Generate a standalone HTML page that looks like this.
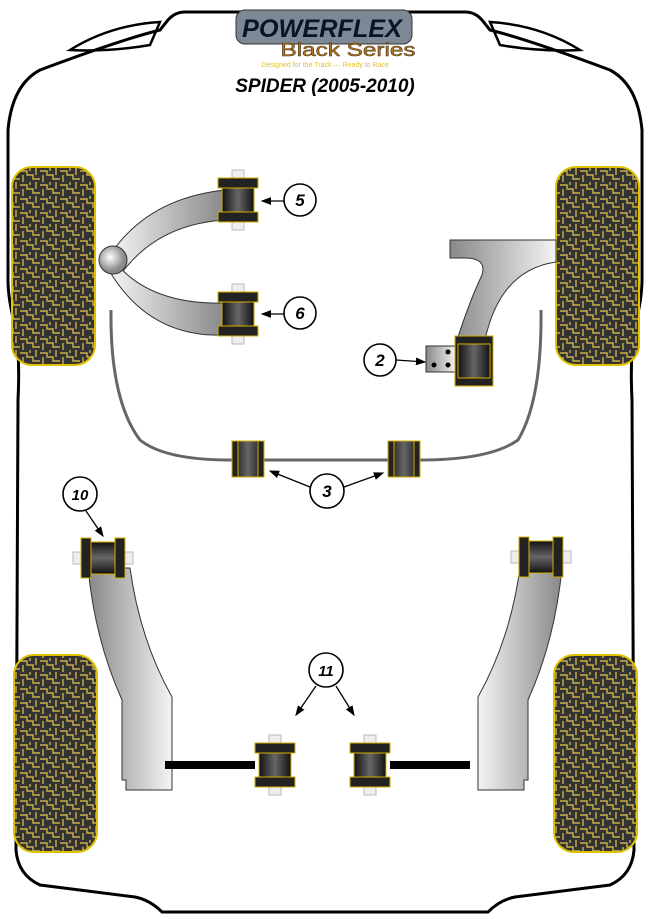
<!DOCTYPE html>
<html><head><meta charset="utf-8">
<style>html,body{margin:0;padding:0;background:#fff;width:650px;height:919px;overflow:hidden}</style>
</head><body>
<svg width="650" height="919" viewBox="0 0 650 919" xmlns="http://www.w3.org/2000/svg" font-family="Liberation Sans, sans-serif">
<defs>
<pattern id="tread" width="20" height="14" patternUnits="userSpaceOnUse">
<rect width="20" height="14" fill="#333"/>
<path d="M0 3 H7 V7 H13 V11 H20 M10 0 V3 M3 7 V14 M16 0 V7" stroke="#cbb04a" stroke-width="1.4" fill="none"/>
</pattern>
<linearGradient id="bv" x1="0" x2="1"><stop offset="0" stop-color="#111"/><stop offset="0.5" stop-color="#666"/><stop offset="1" stop-color="#111"/></linearGradient>
<linearGradient id="bh" x1="0" x2="0" y1="0" y2="1"><stop offset="0" stop-color="#111"/><stop offset="0.5" stop-color="#666"/><stop offset="1" stop-color="#111"/></linearGradient>
<linearGradient id="arm" x1="0" x2="1"><stop offset="0" stop-color="#888"/><stop offset="1" stop-color="#f4f4f4"/></linearGradient>
<linearGradient id="armr" x1="1" x2="0"><stop offset="0" stop-color="#888"/><stop offset="1" stop-color="#f4f4f4"/></linearGradient>
<radialGradient id="ball" cx="0.4" cy="0.4"><stop offset="0" stop-color="#fff"/><stop offset="1" stop-color="#888"/></radialGradient>
<g id="bushV">
<rect x="-6" y="-30" width="12" height="60" fill="#eee" stroke="#bbb"/>
<rect x="-20" y="-22" width="40" height="10" fill="#222" stroke="#d4b000"/>
<rect x="-20" y="12" width="40" height="10" fill="#222" stroke="#d4b000"/>
<rect x="-16" y="-12" width="32" height="24" fill="url(#bv)" stroke="#d4b000"/>
</g>
<g id="bushH">
<rect x="-30" y="-6" width="60" height="12" fill="#eee" stroke="#bbb"/>
<rect x="-22" y="-20" width="10" height="40" fill="#222" stroke="#d4b000"/>
<rect x="12" y="-20" width="10" height="40" fill="#222" stroke="#d4b000"/>
<rect x="-12" y="-16" width="24" height="32" fill="url(#bh)" stroke="#d4b000"/>
</g>
<marker id="ah" markerWidth="8" markerHeight="8" refX="7" refY="4" orient="auto"><path d="M0 1 L8 4 L0 7z" fill="#000"/></marker>
</defs>

<!-- body outline -->
<path d="M185 12 Q175 12 168 20 L160 30 Q120 40 40 70 Q12 85 8 130 L8 280 Q8 300 16 330 Q20 360 18 400 L16 850 Q18 875 40 885 L135 897 Q150 900 162 912 L488 912 Q500 900 515 897 L610 885 Q632 875 634 850 L632 400 Q630 360 634 330 Q642 300 642 280 L642 130 Q638 85 610 70 Q530 40 490 30 L482 20 Q475 12 465 12 Z" fill="none" stroke="#000" stroke-width="3"/>
<path d="M70 50 Q110 25 160 22 L150 45 Q110 52 70 50Z" fill="none" stroke="#000" stroke-width="2.5"/>
<path d="M580 50 Q540 25 490 22 L500 45 Q540 52 580 50Z" fill="none" stroke="#000" stroke-width="2.5"/>

<!-- logo -->
<rect x="236" y="10" width="176" height="34" rx="9" fill="#7d8894" stroke="#333"/>
<text x="322" y="37" text-anchor="middle" font-size="25" font-weight="bold" font-style="italic" fill="#0a1428" textLength="160" lengthAdjust="spacingAndGlyphs">POWERFLEX</text>
<text x="348" y="56" text-anchor="middle" font-size="18" fill="#b07820" stroke="#4a3010" stroke-width="0.5" textLength="135" lengthAdjust="spacingAndGlyphs">Black Series</text>
<text x="325" y="67" text-anchor="middle" font-size="7" fill="#e0c030">Designed for the Track — Ready to Race</text>
<text x="325" y="92" text-anchor="middle" font-size="19" font-weight="bold" font-style="italic" fill="#000">SPIDER (2005-2010)</text>

<!-- tyres -->
<rect x="12" y="167" width="83" height="198" rx="20" fill="url(#tread)" stroke="#e0c000" stroke-width="2"/>
<rect x="556" y="167" width="83" height="198" rx="20" fill="url(#tread)" stroke="#e0c000" stroke-width="2"/>
<rect x="14" y="655" width="83" height="197" rx="20" fill="url(#tread)" stroke="#e0c000" stroke-width="2"/>
<rect x="554" y="655" width="83" height="197" rx="20" fill="url(#tread)" stroke="#e0c000" stroke-width="2"/>

<!-- front wishbone -->
<path d="M112 252 Q150 198 225 190 L225 220 Q160 224 124 270Z" fill="url(#armr)" stroke="#333"/>
<path d="M115 262 Q150 305 225 303 L225 335 Q150 338 110 272Z" fill="url(#armr)" stroke="#333"/>
<circle cx="113" cy="260" r="14" fill="url(#ball)" stroke="#333"/>
<use href="#bushV" x="238" y="200"/>
<use href="#bushV" x="238" y="314"/>

<!-- anti roll bar -->
<path d="M111 310 Q110 400 140 440 Q165 460 230 460 L420 460 Q490 460 518 440 Q542 400 541 310" fill="none" stroke="#666" stroke-width="3"/>
<g transform="translate(248,459)"><rect x="-16" y="-18" width="32" height="36" fill="url(#bv)" stroke="#d4b000"/><rect x="-16" y="-18" width="6" height="36" fill="#222" stroke="#d4b000"/><rect x="10" y="-18" width="6" height="36" fill="#222" stroke="#d4b000"/></g>
<g transform="translate(404,459)"><rect x="-16" y="-18" width="32" height="36" fill="url(#bv)" stroke="#d4b000"/><rect x="-16" y="-18" width="6" height="36" fill="#222" stroke="#d4b000"/><rect x="10" y="-18" width="6" height="36" fill="#222" stroke="#d4b000"/></g>

<!-- front right arm -->
<path d="M450 240 L556 240 L556 262 Q500 270 485 340 L457 340 Q470 300 482 275 Q487 258 465 258 L450 258Z" fill="url(#arm)" stroke="#333"/>
<rect x="426" y="346" width="30" height="26" fill="url(#arm)" stroke="#333"/>
<circle cx="448" cy="352" r="2.5" fill="#000"/><circle cx="434" cy="365" r="2.5" fill="#000"/><circle cx="448" cy="365" r="2.5" fill="#000"/>
<rect x="455" y="336" width="38" height="50" fill="#222" stroke="#d4b000"/>
<rect x="458" y="344" width="32" height="34" fill="url(#bv)" stroke="#d4b000"/>

<!-- rear arms -->
<path d="M88 568 L130 568 Q140 640 172 697 L172 790 L126 790 L126 780 L122 780 L122 700 Q95 640 88 568Z" fill="url(#arm)" stroke="#333"/>
<path d="M562 568 L520 568 Q510 640 478 697 L478 790 L524 790 L524 780 L528 780 L528 700 Q555 640 562 568Z" fill="url(#armr)" stroke="#333"/>
<use href="#bushH" x="103" y="558"/>
<use href="#bushH" x="541" y="557"/>
<rect x="165" y="761" width="90" height="8" fill="#000"/>
<rect x="390" y="761" width="80" height="8" fill="#000"/>
<use href="#bushV" x="275" y="765"/>
<use href="#bushV" x="370" y="765"/>

<!-- labels -->
<g font-size="17" font-weight="bold" font-style="italic" text-anchor="middle" fill="#000">
<circle cx="300" cy="200" r="16" fill="#fff" stroke="#000" stroke-width="1.6"/><text x="300" y="206">5</text>
<circle cx="300" cy="313" r="16" fill="#fff" stroke="#000" stroke-width="1.6"/><text x="300" y="319">6</text>
<circle cx="380" cy="360" r="16" fill="#fff" stroke="#000" stroke-width="1.6"/><text x="380" y="366">2</text>
<circle cx="327" cy="491" r="17" fill="#fff" stroke="#000" stroke-width="1.6"/><text x="327" y="497">3</text>
<circle cx="80" cy="494" r="17" fill="#fff" stroke="#000" stroke-width="1.6"/><text x="80" y="500" font-size="15">10</text>
<circle cx="326" cy="670" r="17" fill="#fff" stroke="#000" stroke-width="1.6"/><text x="326" y="676" font-size="15">11</text>
</g>
<g stroke="#000" stroke-width="1.3" marker-end="url(#ah)" fill="none">
<line x1="284" y1="201" x2="262" y2="201"/>
<line x1="284" y1="314" x2="262" y2="314"/>
<line x1="396" y1="360" x2="425" y2="362"/>
<line x1="310" y1="487" x2="270" y2="471"/>
<line x1="344" y1="487" x2="383" y2="473"/>
<line x1="86" y1="511" x2="103" y2="536"/>
<line x1="316" y1="686" x2="296" y2="715"/>
<line x1="336" y1="686" x2="354" y2="715"/>
</g>
</svg>
</body></html>
